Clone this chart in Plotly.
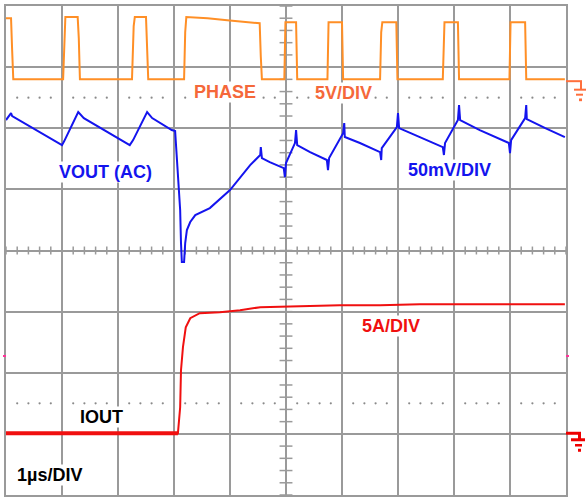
import plotly.graph_objects as go

# ---------------- data (time in µs, 1 µs/div) ----------------
phase_t = [0.00, 0.09, 0.11, 0.13, 1.02, 1.04, 1.06, 1.28, 1.30, 1.32, 2.25, 2.28, 2.30, 2.50,
           2.52, 2.54, 3.18, 3.20, 3.22, 3.60, 3.95, 4.30, 4.53, 4.55, 4.57, 4.97, 4.99, 5.18,
           5.20, 5.74, 5.76, 6.00, 6.02, 6.68, 6.70, 6.72, 6.97, 6.99, 7.80, 7.83, 8.07, 8.09,
           8.99, 9.01, 9.27, 9.29, 9.98]
phase_v = [5.15, 5.15, 2.5, 0.16, 0.16, 3.0, 5.24, 5.24, 3.5, 0.16, 0.16, 4.5, 5.24, 5.24,
           2.0, 0.16, 0.16, 4.0, 5.24, 5.15, 4.99, 4.83, 4.74, 2.0, 0.16, 0.16, 4.83, 4.83,
           0.16, 0.16, 4.83, 4.83, 0.16, 0.16, 4.0, 4.83, 4.83, 0.16, 0.16, 4.83, 4.83, 0.16,
           0.16, 4.83, 4.83, 0.16, 0.16]

vout_t = [0.00, 0.09, 0.11, 1.00, 1.04, 1.29, 1.39, 2.21, 2.27, 2.52, 2.61, 2.96, 3.02, 3.07,
          3.11, 3.125, 3.14, 3.18, 3.20, 3.23, 3.29, 3.38, 3.46, 3.64, 4.00, 4.36, 4.54, 4.55,
          4.57, 4.71, 4.96, 4.98, 5.00, 5.16, 5.18, 5.20, 5.43, 5.73, 5.75, 5.77, 6.02, 6.04,
          6.05, 6.32, 6.68, 6.70, 6.71, 6.98, 7.00, 7.02, 7.39, 7.80, 7.82, 7.84, 8.07, 8.09,
          8.11, 8.46, 8.98, 9.00, 9.02, 9.27, 9.29, 9.30, 9.63, 9.98]
vout_mv = [8.2, 13.9, 11.5, -12.3, -9.0, 14.7, 9.8, -12.3, -8.2, 14.7, 9.8, 0.0, -0.8, -32.7,
           -65.4, -92.4, -108, -108, -92.4, -81.8, -75.2, -69.5, -67.9, -63.8, -49.1, -28.6,
           -20.4, -13.9, -22.9, -26.2, -31.1, -38.5, -27.0, -10.6, 0.0, -12.3, -18.0, -24.5,
           -32.7, -22.9, -2.5, 5.7, -5.7, -10.6, -18.0, -24.5, -14.7, 2.5, 13.9, 1.6, -5.7,
           -13.9, -20.4, -10.6, 8.2, 20.4, 8.2, 0.0, -10.6, -18.8, -8.2, 9.8, 20.4, 9.0, 1.6,
           -5.7]

iout_t = [0.00, 3.07, 3.11, 3.125, 3.16, 3.21, 3.29, 3.38, 3.46, 3.82, 4.18, 4.54, 5.25, 5.96,
          6.68, 7.39, 8.11, 9.18, 9.98]
iout_a = [0.0, 0.0, 2.13, 5.16, 7.04, 8.67, 9.41, 9.66, 9.82, 9.90, 10.07, 10.31, 10.39, 10.47,
          10.47, 10.55, 10.55, 10.55, 10.55]

labels = ["PHASE", "5V/DIV", "VOUT (AC)", "50mV/DIV", "5A/DIV", "IOUT", "1µs/DIV"]

# channel scale (units/div) and ground offset (div from screen centre)
PHASE_SCALE, PHASE_OFFSET = 5.0, 2.77
VOUT_SCALE, VOUT_OFFSET = 50.0, 1.97
IOUT_SCALE, IOUT_OFFSET = 5.0, -2.99

# ---------------- styling ----------------
W, H = 588, 497
ML, MR, MT, MB = 6, 22, 6, 2
PW, PH = W - ML - MR, H - MT - MB
GRID = "#9a9a9a"
ORANGE = "#ff8f26"
ORANGE_TXT = "#f5683a"
BLUE = "#1414ee"
RED = "#f01010"
FONT = "Liberation Sans, Arial, sans-serif"

def to_div(vals, scale, offset):
    return [v / scale + offset for v in vals]

fig = go.Figure()

# graticule dotted rows at +/-2.5 div
dot_x, dot_y = [], []
for yy in (2.5, -2.5):
    for i in range(50):
        if i % 5 == 0:
            continue
        dot_x.append(i * 0.2)
        dot_y.append(yy)
fig.add_trace(go.Scatter(x=dot_x, y=dot_y, mode="markers",
                         marker=dict(size=2.2, color="#8a8a8a"), hoverinfo="skip",
                         showlegend=False))

fig.add_trace(go.Scatter(x=phase_t, y=to_div(phase_v, PHASE_SCALE, PHASE_OFFSET),
                         mode="lines", line=dict(color=ORANGE, width=2), showlegend=False))
fig.add_trace(go.Scatter(x=vout_t, y=to_div(vout_mv, VOUT_SCALE, VOUT_OFFSET),
                         mode="lines", line=dict(color=BLUE, width=2), showlegend=False))
fig.add_trace(go.Scatter(x=iout_t, y=to_div(iout_a, IOUT_SCALE, IOUT_OFFSET),
                         mode="lines", line=dict(color=RED, width=2), showlegend=False))
fig.add_trace(go.Scatter(x=iout_t[:2], y=to_div(iout_a[:2], IOUT_SCALE, IOUT_OFFSET),
                         mode="lines", line=dict(color=RED, width=4), showlegend=False))

shapes = []
# centre-line ticks
for i in range(51):
    x = i * 0.2
    shapes.append(dict(type="line", xref="x", yref="y", x0=x, x1=x, y0=-0.065, y1=0.065,
                       line=dict(color=GRID, width=1.5), layer="below"))
for i in range(41):
    y = -4 + i * 0.2
    shapes.append(dict(type="line", xref="x", yref="y", x0=4.885, x1=5.115, y0=y, y1=y,
                       line=dict(color=GRID, width=1.5), layer="below"))

# ground markers (pixel geometry converted to paper coords)
def px(xp):
    return (xp - ML) / PW

def py(yp):
    return (H - MB - yp) / PH

def level_px(offset):
    return MT + PH / 2 - offset * PH / 8

def seg(x0, y0, x1, y1, color, w):
    shapes.append(dict(type="line", xref="paper", yref="paper", x0=px(x0), x1=px(x1),
                       y0=py(y0), y1=py(y1), line=dict(color=color, width=w)))

def rect(x0, y0, x1, y1, color):
    shapes.append(dict(type="rect", xref="paper", yref="paper", x0=px(x0), x1=px(x1),
                       y0=py(y0), y1=py(y1), line=dict(width=0), fillcolor=color))

g = level_px(PHASE_OFFSET)
oc = "#ff6f3c"
seg(566, g, 582, g, oc, 2)
seg(581, g, 581, g + 8.5, oc, 2)
seg(574, g + 8.5, 586, g + 8.5, oc, 2)
seg(576, g + 13.5, 583, g + 13.5, oc, 2)
rect(579, g + 17.3, 582, g + 20, oc)

g = level_px(IOUT_OFFSET)
rc = "#ee0000"
seg(566, g, 581, g, rc, 3)
seg(579.5, g, 579.5, g + 6.5, rc, 3)
seg(571, g + 6.5, 585, g + 6.5, rc, 3)
seg(575, g + 12, 582, g + 12, rc, 2.5)
rect(578, g + 15.5, 581, g + 18.5, rc)

# small channel position marks
rect(3, 355, 6, 357, "#ff3399")
rect(566, 355, 569, 357, "#ff3399")

# ---------------- text ----------------
ann = []
def label(text, x, y, color):
    ann.append(dict(text="<b>%s</b>" % text, x=x, y=y, xref="x", yref="y",
                    showarrow=False, xanchor="center", yanchor="middle",
                    font=dict(family=FONT, size=18, color=color),
                    bgcolor="white", borderpad=0))

label(labels[0], 3.91, 2.59, ORANGE_TXT)
label(labels[1], 6.03, 2.57, ORANGE_TXT)
label(labels[2], 1.78, 1.29, BLUE)
label(labels[3], 7.92, 1.31, BLUE)
label(labels[4], 6.875, -1.23, RED)
label(labels[5], 1.705, -2.72, "black")
label(labels[6], 0.768, -3.67, "black")

axis_common = dict(showgrid=True, gridcolor=GRID, gridwidth=1.5, zeroline=False,
                   showticklabels=False, ticks="", showline=True, linecolor=GRID,
                   linewidth=1.5, mirror=True, tick0=0, dtick=1, fixedrange=True)

fig.update_layout(
    width=W, height=H, autosize=False,
    margin=dict(l=ML, r=MR, t=MT, b=MB, pad=0),
    paper_bgcolor="white", plot_bgcolor="white",
    xaxis=dict(range=[0, 10], **axis_common),
    yaxis=dict(range=[-4, 4], **axis_common),
    shapes=shapes, annotations=ann, showlegend=False,
)

fig.write_html("out.html", config={"displayModeBar": False},
               post_script="document.body.style.margin='0';document.body.style.overflow='hidden';")
